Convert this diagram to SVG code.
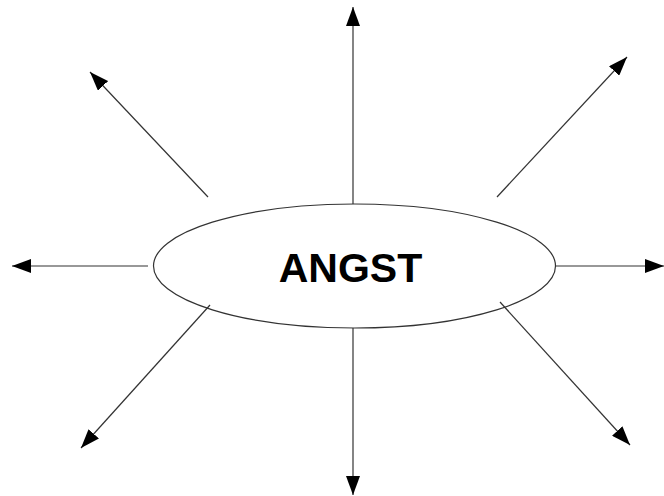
<svg xmlns="http://www.w3.org/2000/svg" width="664" height="496" viewBox="0 0 664 496">
<style>
.c{stroke:#333;stroke-width:1.2;fill:none;marker-end:url(#ah)}
.t{font-family:"Liberation Sans",Arial,sans-serif;font-weight:bold;font-size:41px;fill:#000}
</style>
<defs>
<marker id="ah" markerUnits="userSpaceOnUse" markerWidth="20" markerHeight="14" refX="19" refY="7" orient="auto">
<path d="M0,0 L19,7 L0,14 z" fill="#000"/>
</marker>
</defs>
<rect width="664" height="496" fill="#fff"/>
<g id="angst">
<ellipse cx="354.5" cy="266" rx="201" ry="62" fill="#fff" stroke="#333" stroke-width="1.2"/>
<text class="t" x="350.5" y="282" text-anchor="middle">ANGST</text>
</g>
<g id="connectors">
<line class="c" x1="353" y1="204" x2="353" y2="7"/>
<line class="c" x1="353" y1="328" x2="353" y2="495"/>
<line class="c" x1="148" y1="266" x2="12" y2="266"/>
<line class="c" x1="555" y1="266" x2="664" y2="266"/>
<line class="c" x1="208" y1="197" x2="90" y2="72"/>
<line class="c" x1="497" y1="197" x2="627" y2="57"/>
<line class="c" x1="210" y1="305" x2="81" y2="448"/>
<line class="c" x1="500" y1="302" x2="630" y2="445"/>
</g>
</svg>
